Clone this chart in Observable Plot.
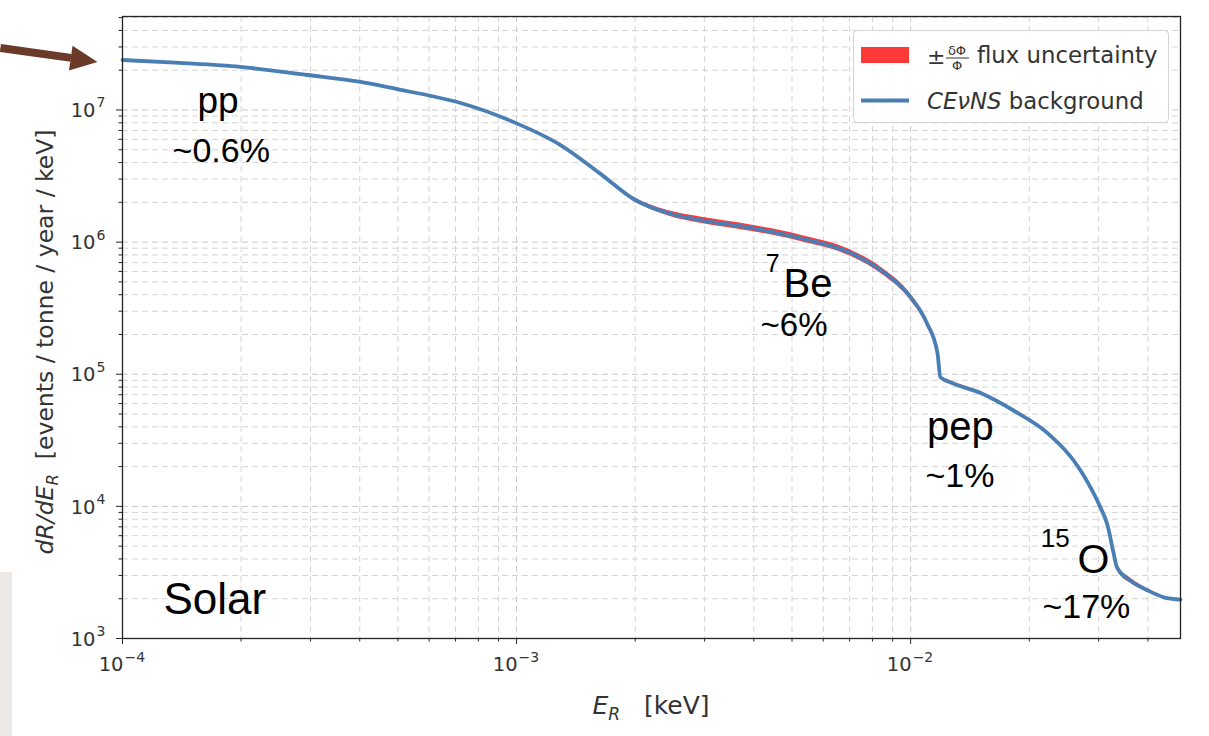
<!DOCTYPE html>
<html><head><meta charset="utf-8">
<script src="https://cdn.jsdelivr.net/npm/d3@7"></script>
<script src="https://cdn.jsdelivr.net/npm/@observablehq/plot@0.6"></script>
<style>
body{margin:0;background:#fff;}
#wrap{position:relative;width:1209px;height:736px;overflow:hidden;background:#fff;}
#graybox{position:absolute;left:0;top:572px;width:12px;height:164px;background:#ebe8e5;}
</style></head><body><div id="wrap"><div id="graybox"></div></div>
<script>
// ---- data ----
const energy = [1.00e-4,1.40e-4,1.99e-4,2.95e-4,4.02e-4,5.08e-4,6.05e-4,7.21e-4,9.82e-4,1.29e-3,1.63e-3,1.98e-3,2.42e-3,2.93e-3,3.93e-3,5.26e-3,7.05e-3,8.53e-3,1.00e-2,1.10e-2,1.17e-2,1.19e-2,1.26e-2,1.51e-2,1.82e-2,2.23e-2,2.70e-2,3.03e-2,3.16e-2,3.27e-2,3.34e-2,3.61e-2,4.00e-2,4.39e-2,4.84e-2];
const rate = [2.39e7,2.27e7,2.12e7,1.84e7,1.63e7,1.42e7,1.28e7,1.13e7,8.11e6,5.45e6,3.30e6,2.12e6,1.66e6,1.47e6,1.28e6,1.07e6,8.26e5,5.93e5,3.83e5,2.43e5,1.44e5,9.49e4,8.70e4,7.18e4,5.34e4,3.57e4,1.87e4,9.83e3,7.2e3,4.5e3,3.45e3,2.75e3,2.31e3,2.05e3,1.97e3];
const relUnc = [0.006,0.006,0.006,0.006,0.006,0.006,0.006,0.006,0.007,0.01,0.015,0.03,0.045,0.055,0.055,0.055,0.055,0.055,0.055,0.05,0.05,0.03,0.03,0.025,0.02,0.015,0.012,0.012,0.012,0.015,0.05,0.045,0.03,0.02,0.01];
const xMajorTicks = [1e-4,1e-3,1e-2];
const yMajorTicks = [1e3,1e4,1e5,1e6,1e7];
const annoText = ["pp","~0.6%","Solar","7","Be","~6%","pep","~1%","15","O","~17%"];
const annoE = [1.55e-4,1.34e-4,1.27e-4,4.29e-3,4.76e-3,4.16e-3,1.10e-2,1.09e-2,2.14e-2,2.65e-2,2.16e-2];
const annoR = [9.49e6,4.04e6,1.52e3,5.93e5,3.83e5,1.94e5,3.16e4,1.39e4,4.89e3,3.11e3,1.44e3];
const arrowE = [4.9e-5,7.4e-5,8.64e-5];
const arrowR = [2.95e7,2.48e7,2.31e7];
const legendLabels = ["flux uncertainty","CEνNS","background"];

// ---- styling ----
const annoSize = {"pp":37,"~0.6%":34,"Solar":44,"7":25,"Be":40,"~6%":33,"pep":40,"~1%":34,"15":26,"O":41,"~17%":34};
const expOf = v => String(Math.round(Math.log10(v))).replace("-", "−");
const xDomain = [1e-4, 0.0484], yDomain = [1e3, 5.1e7];
const minor = (lo, hi) => { const out = []; for (let d = Math.floor(Math.log10(lo)); d <= Math.ceil(Math.log10(hi)); d++) for (let k = 2; k <= 9; k++) { const v = k * 10 ** d; if (v > lo && v < hi) out.push(v); } return out; };
const xMinor = minor(...xDomain), yMinor = minor(...yDomain);

const data = energy.map((e, i) => ({e, r: rate[i], lo: rate[i] * (1 - relUnc[i]), hi: rate[i] * (1 + relUnc[i])}));
const idx = annoText.map((_, i) => i);
const gridStyle = {stroke: "#d4d4d4", strokeOpacity: 1, strokeDasharray: "6,4", strokeWidth: 1};
const headSymbol = {draw(ctx) { ctx.moveTo(0, 0); ctx.lineTo(-27, -12.5); ctx.lineTo(-27, 12.5); ctx.closePath(); }};
const tickText = {fontFamily: "DejaVu Sans", fill: "#333"};

const plot = Plot.plot({
  width: 1209, height: 736,
  marginLeft: 122, marginRight: 29, marginTop: 16, marginBottom: 98,
  x: {type: "log", domain: xDomain, label: null},
  y: {type: "log", domain: yDomain, label: null},
  style: {fontFamily: "DejaVu Sans", fontSize: "18px", color: "#333", background: "transparent"},
  marks: [
    Plot.gridX(xMinor, gridStyle),
    Plot.gridX(xMajorTicks.slice(1), {...gridStyle, stroke: "#c8c8c8"}),
    Plot.gridY(yMinor, gridStyle),
    Plot.gridY(yMajorTicks.slice(1), {...gridStyle, stroke: "#c8c8c8"}),
    Plot.areaY(data, {x: "e", y1: "lo", y2: "hi", fill: "#ff2222", fillOpacity: 0.9, curve: "monotone-x"}),
    Plot.line(data, {x: "e", y: "r", stroke: "#4a7fb5", strokeWidth: 3.8, curve: "monotone-x"}),
    Plot.axisX(xMajorTicks, {tickFormat: () => "", tickSize: 6, label: null, stroke: "#222"}),
    Plot.axisX(xMinor, {tickFormat: () => "", tickSize: 3.5, label: null, stroke: "#222"}),
    Plot.axisY(yMajorTicks, {tickFormat: () => "", tickSize: 6, label: null, stroke: "#222"}),
    Plot.axisY(yMinor, {tickFormat: () => "", tickSize: 3.5, label: null, stroke: "#222"}),
    // tick labels: "10" with raised exponent
    Plot.text(xMajorTicks, {...tickText, x: d => d, y: yDomain[0], text: () => "10", fontSize: 19.5, textAnchor: "end", lineAnchor: "top", dy: 19, dx: 1}),
    Plot.text(xMajorTicks, {...tickText, x: d => d, y: yDomain[0], text: expOf, fontSize: 14, textAnchor: "start", lineAnchor: "top", dy: 14, dx: 2}),
    Plot.text(yMajorTicks, {...tickText, x: xDomain[0], y: d => d, text: () => "10", fontSize: 19.5, textAnchor: "end", lineAnchor: "middle", dx: -27, dy: 1}),
    Plot.text(yMajorTicks, {...tickText, x: xDomain[0], y: d => d, text: expOf, fontSize: 14, textAnchor: "start", lineAnchor: "middle", dx: -26, dy: -7}),
    Plot.frame({stroke: "#222", strokeWidth: 1.3}),
    Plot.text(idx, {x: i => annoE[i], y: i => annoR[i], text: i => annoText[i], fontSize: i => annoSize[annoText[i]],
      textAnchor: "start", lineAnchor: "bottom", fontFamily: "Liberation Sans", fill: "#000"}),
    Plot.link([0], {x1: arrowE[0], y1: arrowR[0], x2: arrowE[1], y2: arrowR[1], stroke: "#6b3a29", strokeWidth: 8, strokeLinecap: "butt"}),
    Plot.dot([0], {x: arrowE[2], y: arrowR[2], symbol: headSymbol, fill: "#6b3a29", stroke: "none", rotate: 8.2, r: 10})
  ]
});
document.getElementById("wrap").appendChild(plot);
plot.style.position = "absolute"; plot.style.left = "0"; plot.style.top = "0";

const svg = d3.select(plot);
// axis titles
const yl = svg.append("text").attr("transform", "translate(45,342) rotate(-90)").attr("text-anchor", "middle")
  .attr("dy", "0.35em").attr("font-family", "DejaVu Sans").style("font-size", "23.5px").attr("fill", "#333");
yl.append("tspan").attr("font-style", "italic").text("dR/dE");
yl.append("tspan").attr("font-style", "italic").style("font-size", "16.5px").attr("dy", "5").text("R");
yl.append("tspan").attr("dy", "-5").text("  [events / tonne / year / keV]");
const xl = svg.append("text").attr("x", 651).attr("y", 714).attr("text-anchor", "middle")
  .attr("font-family", "DejaVu Sans").style("font-size", "25px").attr("fill", "#333");
xl.append("tspan").attr("font-style", "italic").text("E");
xl.append("tspan").attr("font-style", "italic").style("font-size", "17px").attr("dy", "6").text("R");
xl.append("tspan").attr("dy", "-6").text("   [keV]");

// legend
const lg = svg.append("g").attr("font-family", "DejaVu Sans").attr("fill", "#333").attr("text-anchor", "start");
lg.append("rect").attr("x", 853.5).attr("y", 30.5).attr("width", 315).attr("height", 92).attr("rx", 4)
  .attr("fill", "white").attr("fill-opacity", 0.85).attr("stroke", "#d4d4d4");
lg.append("rect").attr("x", 861).attr("y", 47).attr("width", 48).attr("height", 16).attr("fill", "#ff2222").attr("fill-opacity", 0.9);
lg.append("text").attr("x", 927).attr("y", 64).style("font-size", "22px").text("±");
lg.append("text").attr("x", 957).attr("y", 55).attr("text-anchor", "middle").style("font-size", "13px").text("δΦ");
lg.append("line").attr("x1", 946).attr("x2", 969).attr("y1", 58).attr("y2", 58).attr("stroke", "#333").attr("stroke-width", 1);
lg.append("text").attr("x", 957).attr("y", 70).attr("text-anchor", "middle").style("font-size", "13px").text("Φ");
lg.append("text").attr("x", 977).attr("y", 63).style("font-size", "22.8px").text(legendLabels[0]);
lg.append("line").attr("x1", 861).attr("x2", 909).attr("y1", 100.5).attr("y2", 100.5).attr("stroke", "#4a7fb5").attr("stroke-width", 4);
const t2 = lg.append("text").attr("x", 927).attr("y", 109).style("font-size", "22.8px");
t2.append("tspan").attr("font-style", "italic").text(legendLabels[1]);
t2.append("tspan").text(" " + legendLabels[2]);
</script></body></html>
